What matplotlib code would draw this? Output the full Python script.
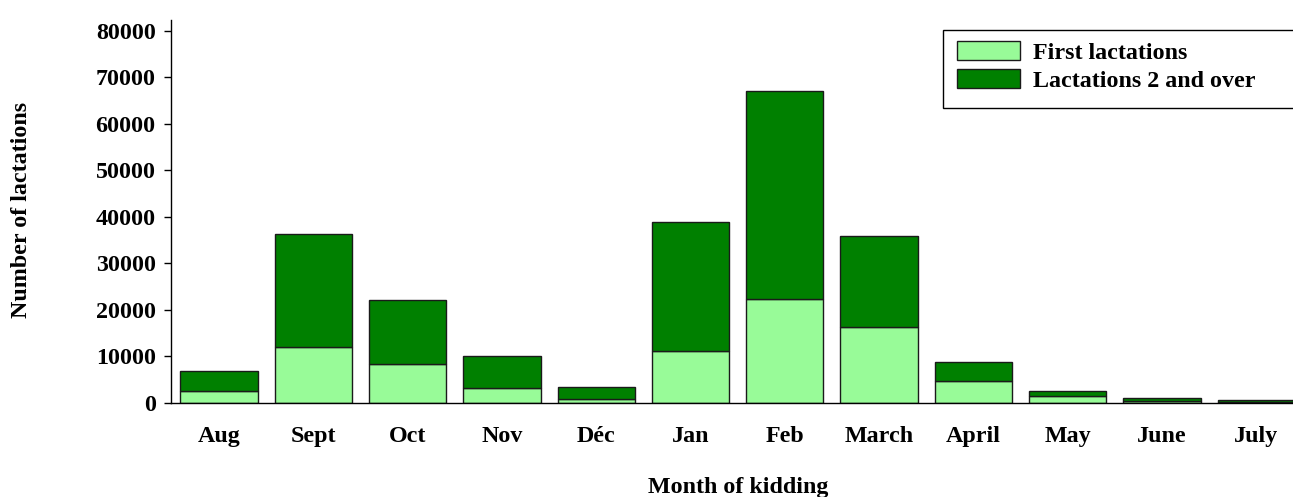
import matplotlib
matplotlib.use("Agg")
import matplotlib.pyplot as plt
from matplotlib.patches import Rectangle

months = ["Aug", "Sept", "Oct", "Nov", "Déc", "Jan", "Feb", "March", "April", "May", "June", "July"]
first_lact = [2500, 11900, 8300, 3100, 800, 11100, 22300, 16300, 4700, 1400, 300, 150]
total_lact = [6900, 36200, 22100, 10000, 3400, 38800, 67000, 35800, 8700, 2600, 950, 500]
later_lact = [t - f for t, f in zip(total_lact, first_lact)]
yticks = [0, 10000, 20000, 30000, 40000, 50000, 60000, 70000, 80000]

plt.rcParams['font.family'] = ['Liberation Serif', 'DejaVu Serif']
plt.rcParams['font.weight'] = 'bold'
FS = 17.3

fig = plt.figure(figsize=(12.93, 4.97), dpi=100)
ax = fig.add_axes([171/1293, 1 - 402.7/497, 1 - 171/1293, (402.7 - 20)/497])

x = list(range(len(months)))
ax.bar(x, first_lact, width=0.82, color='#98FB98', edgecolor='#1a1a1a', linewidth=1.0, label='First lactations')
ax.bar(x, later_lact, bottom=first_lact, width=0.82, color='#008000', edgecolor='#1a1a1a', linewidth=1.0,
       label='Lactations 2 and over')

ax.set_xlim(-0.51, 11.39)
ax.set_ylim(0, 82300)
ax.set_yticks(yticks)
ax.set_yticklabels([str(v) for v in yticks], fontsize=FS, fontweight='bold')
ax.set_xticks(x)
ax.set_xticklabels(months, fontsize=FS, fontweight='bold')
ax.tick_params(axis='x', length=0, pad=17)
ax.tick_params(axis='y', length=5, width=1, pad=6, direction='out')
for s in ['top', 'right']:
    ax.spines[s].set_visible(False)
ax.spines['left'].set_linewidth(1)
ax.spines['bottom'].set_linewidth(1)

fig.text(22/1293, 1 - 210/497, "Number of lactations", rotation=90, ha='center', va='center',
         fontsize=FS, fontweight='bold')
fig.text(738/1293, 1 - 487/497, "Month of kidding", ha='center', va='center',
         fontsize=FS, fontweight='bold')

# legend frame
fig.patches.append(Rectangle((943/1293, 1 - 108/497), (1310 - 943)/1293, (108 - 30)/497,
                             transform=fig.transFigure, facecolor='white', edgecolor='black',
                             linewidth=1, zorder=3))
leg = fig.legend(loc='upper left', bbox_to_anchor=(957/1293, 1 - 41/497), fontsize=FS,
                 frameon=False, handlelength=2.62, handleheight=0.85, labelspacing=0.2,
                 borderpad=0, handletextpad=0.55, borderaxespad=0)
leg.set_zorder(4)
for t in leg.get_texts():
    t.set_fontweight('bold')

fig.savefig("out.png", dpi=100)
